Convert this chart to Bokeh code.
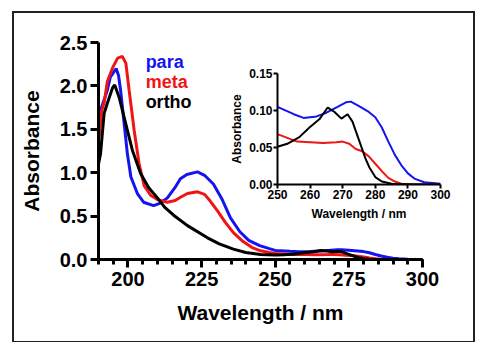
from bokeh.plotting import figure
from bokeh.models import Range1d, FixedTicker, NumeralTickFormatter, Label, Div
from bokeh.embed import file_html
from bokeh.resources import INLINE

# ---- data ----
para_wl = [190, 191, 192, 193, 194, 195, 196, 196.8, 197.5, 198.7, 199.8, 201, 203.2, 205.3, 208.7, 211,
           213.4, 216, 217.8, 220, 223.6, 226, 229, 232, 234.8, 238, 241, 244.7, 248, 250, 255, 258, 262,
           265, 268, 271, 272.5, 275, 278, 280, 282, 284, 286, 288, 290, 292, 295, 300]
para_abs = [1.40, 1.75, 1.85, 1.95, 2.10, 2.15, 2.20, 2.12, 1.95, 1.57, 1.22, 0.95, 0.76, 0.66, 0.62, 0.65,
            0.71, 0.83, 0.93, 0.98, 1.01, 0.97, 0.87, 0.69, 0.48, 0.32, 0.22, 0.16, 0.125, 0.105, 0.095, 0.090, 0.092,
            0.097, 0.104, 0.111, 0.112, 0.106, 0.098, 0.091, 0.077, 0.058, 0.040, 0.026, 0.015, 0.008, 0.003, 0.001]

meta_wl = [190, 191, 192, 193, 194.8, 196.5, 198.1, 199.3, 200.4, 202.1, 203.8, 205.5, 207.7, 210, 213.4,
           216, 218, 220.2, 223.6, 226, 228, 230.4, 233, 235.8, 239, 242, 245, 248, 250, 253, 256, 260, 264,
           268, 270, 272, 274, 276, 278, 280, 282, 284, 286, 288, 292, 300]
meta_abs = [1.35, 1.70, 1.82, 2.05, 2.21, 2.32, 2.34, 2.26, 1.95, 1.49, 1.10, 0.85, 0.74, 0.69, 0.66,
            0.68, 0.72, 0.76, 0.78, 0.75, 0.67, 0.56, 0.43, 0.31, 0.21, 0.14, 0.10, 0.08, 0.068, 0.063, 0.058, 0.057, 0.056,
            0.057, 0.058, 0.055, 0.048, 0.045, 0.038, 0.028, 0.018, 0.009, 0.004, 0.001, 0.0, 0.0]

ortho_wl = [190, 190.7, 191.9, 193, 194.8, 195.5, 197, 199.2, 201.5, 204.3, 207, 210, 212.5, 215.5, 220.2,
            227, 231, 235.8, 240, 245, 250, 253, 256.7, 259.8, 263, 265.4, 267.5, 269.6, 271.5, 273, 275,
            277, 278.2, 280, 282, 285, 290, 300]
ortho_abs = [1.10, 1.22, 1.68, 1.80, 1.98, 2.01, 1.87, 1.57, 1.26, 0.99, 0.83, 0.71, 0.60, 0.51, 0.39,
             0.25, 0.18, 0.12, 0.08, 0.058, 0.051, 0.055, 0.064, 0.077, 0.089, 0.104, 0.098, 0.089, 0.095, 0.085, 0.060,
             0.035, 0.023, 0.010, 0.004, 0.001, 0.0, 0.0]

series_names = ["para", "meta", "ortho"]
series_colors = ["#1414f0", "#f01414", "#000000"]

main_x_ticks = [200, 225, 250, 275, 300]
main_x_minor = list(range(190, 301, 5))
main_y_ticks = [0.0, 0.5, 1.0, 1.5, 2.0, 2.5]
inset_x_ticks = [250, 260, 270, 280, 290, 300]
inset_y_ticks = [0.0, 0.05, 0.10, 0.15]

FONT = "Liberation Sans"


def style_axis(ax, tick_px, label_px, lw, major_out, minor_out, standoff, label_standoff):
    ax.axis_line_width = lw
    ax.axis_line_color = "black"
    ax.major_tick_line_width = lw
    ax.minor_tick_line_width = lw
    ax.major_tick_line_color = "black"
    ax.minor_tick_line_color = "black"
    ax.major_tick_out = major_out
    ax.major_tick_in = 0
    ax.minor_tick_out = minor_out
    ax.minor_tick_in = 0
    ax.major_label_text_font = FONT
    ax.major_label_text_font_style = "bold"
    ax.major_label_text_font_size = f"{tick_px}px"
    ax.major_label_text_color = "black"
    ax.axis_label_text_font = FONT
    ax.axis_label_text_font_style = "bold"
    ax.axis_label_text_font_size = f"{label_px}px"
    ax.axis_label_text_color = "black"
    ax.major_label_standoff = standoff
    ax.axis_label_standoff = label_standoff


# ---- main plot ----
main = figure(width=478, height=342, x_range=Range1d(190, 300), y_range=Range1d(0, 2.5),
              output_backend="svg", toolbar_location=None,
              min_border_left=98, min_border_right=56, min_border_top=42, min_border_bottom=83)
main.outline_line_color = None
main.grid.visible = False
main.xaxis.axis_label = "Wavelength / nm"
main.yaxis.axis_label = "Absorbance"
main.xaxis.ticker = FixedTicker(ticks=main_x_ticks, minor_ticks=main_x_minor)
main.yaxis.ticker = FixedTicker(ticks=main_y_ticks, minor_ticks=[])
main.yaxis.formatter = NumeralTickFormatter(format="0.0")
main.xaxis.formatter = NumeralTickFormatter(format="0")
style_axis(main.xaxis[0], 20, 21, 3, 8, 5, 4, 12)
style_axis(main.yaxis[0], 20, 21, 3, 8, 0, 3, 14)

all_wl = [para_wl, meta_wl, ortho_wl]
all_abs = [para_abs, meta_abs, ortho_abs]
for wl, ab, c in zip(all_wl, all_abs, series_colors):
    main.line(wl, ab, line_color=c, line_width=3)

legend_y = [2.27, 2.04, 1.81]
for name, c, yy in zip(series_names, series_colors, legend_y):
    main.add_layout(Label(x=206, y=yy, text=name, text_color=c, text_font=FONT,
                          text_font_style="bold", text_font_size="18px", text_baseline="alphabetic"))

# ---- inset (a separate root, placed over the main plot) ----
inset = figure(width=240, height=165, x_range=Range1d(250, 300), y_range=Range1d(0, 0.15),
               output_backend="svg", toolbar_location=None,
               min_border_left=52, min_border_right=25, min_border_top=13, min_border_bottom=41,
               styles={"position": "absolute", "left": "225px", "top": "60px"})
inset.outline_line_color = None
inset.background_fill_alpha = 0
inset.border_fill_alpha = 0
inset.grid.visible = False
inset.xaxis.axis_label = "Wavelength / nm"
inset.yaxis.axis_label = "Absorbance"
inset.xaxis.ticker = FixedTicker(ticks=inset_x_ticks, minor_ticks=[])
inset.yaxis.ticker = FixedTicker(ticks=inset_y_ticks, minor_ticks=[])
inset.yaxis.formatter = NumeralTickFormatter(format="0.00")
inset.xaxis.formatter = NumeralTickFormatter(format="0")
style_axis(inset.xaxis[0], 12, 12, 2, 4, 0, 1, 5)
style_axis(inset.yaxis[0], 12, 12, 2, 4, 0, 1, 2)
for wl, ab, c in zip(all_wl, all_abs, series_colors):
    inset.line(wl, ab, line_color=c, line_width=2)

frame_box = Div(width=463, height=332,
                styles={"position": "absolute", "left": "7px", "top": "6px",
                        "border": "2px solid #222", "pointer-events": "none",
                        "box-sizing": "border-box"})

open("out.html", "w").write(file_html([main, inset, frame_box], INLINE))
